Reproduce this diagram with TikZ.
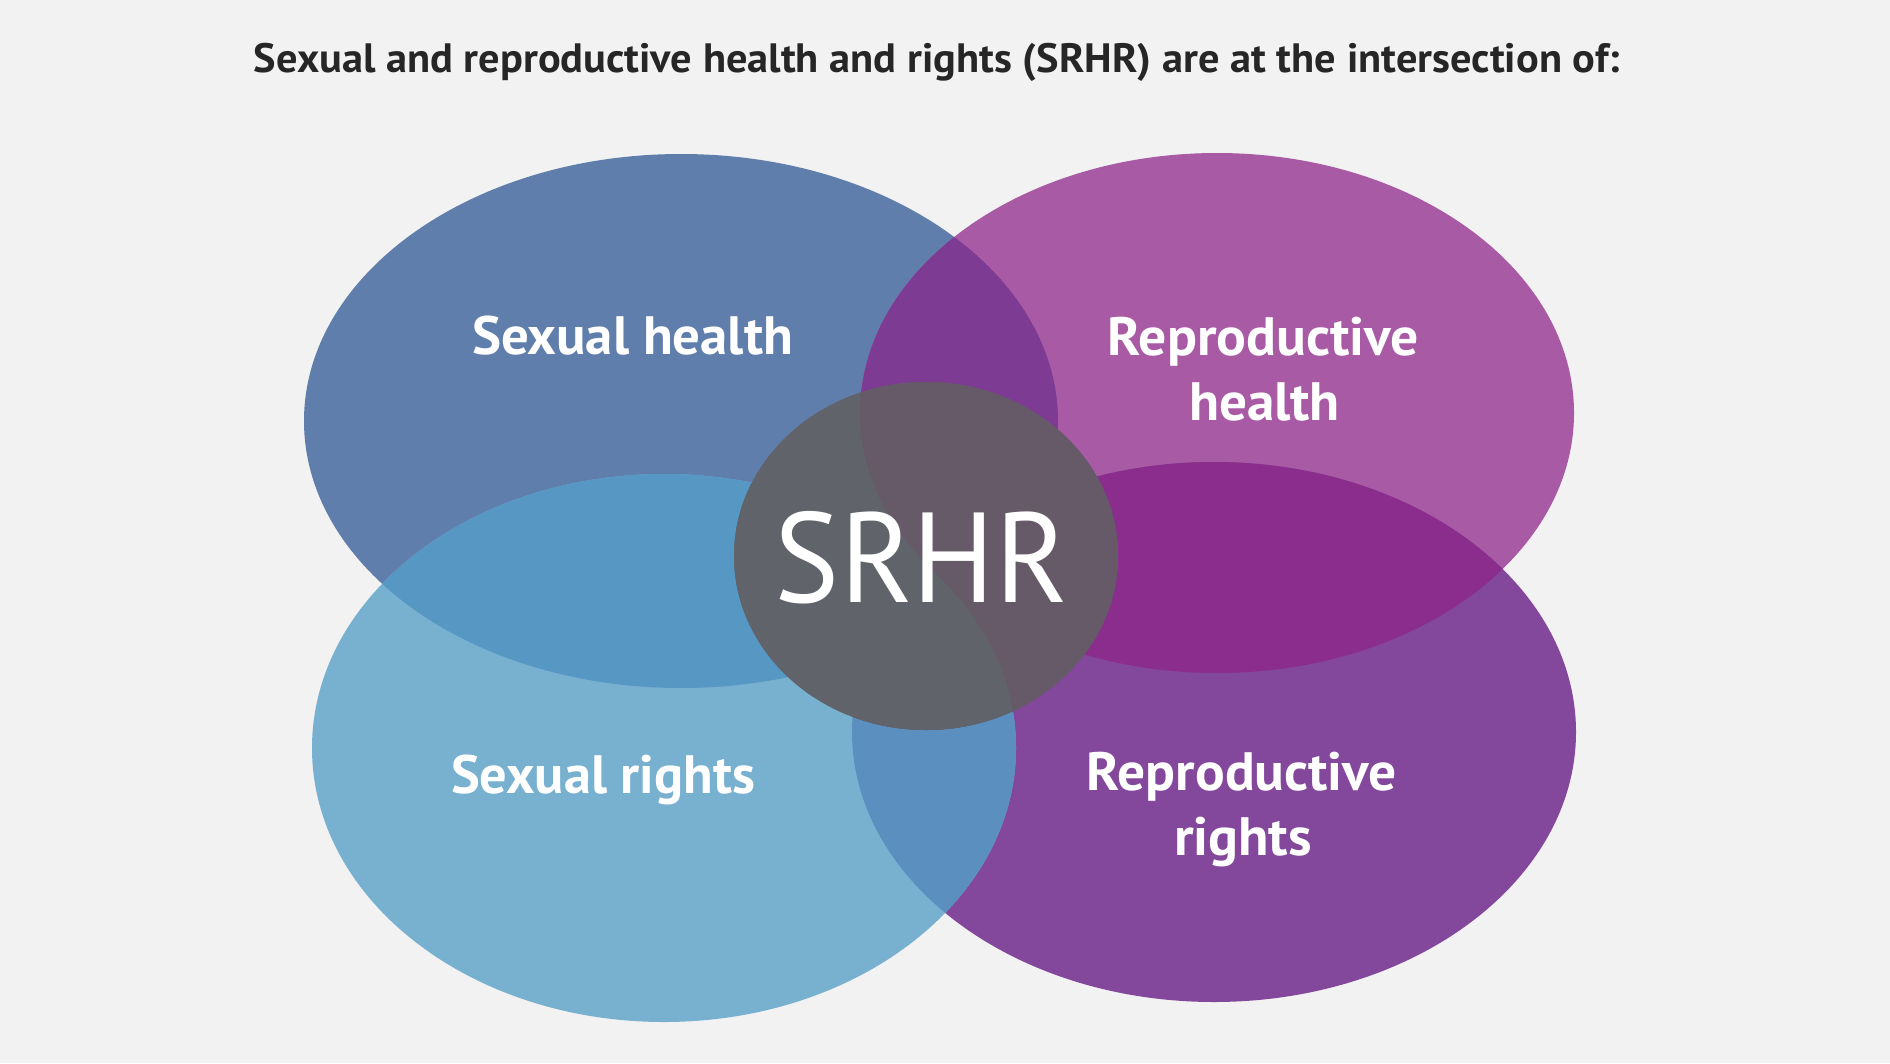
\documentclass[tikz,border=0pt]{standalone}
\usepackage{fontspec}
\usepackage{graphicx}
\newfontfamily\labfont{PT Sans}
\definecolor{bgc}{HTML}{F2F2F2}
\definecolor{cTL}{HTML}{607EAB}
\definecolor{cTR}{HTML}{A85AA5}
\definecolor{cBL}{HTML}{78B0D0}
\definecolor{cBR}{HTML}{83479B}
\definecolor{cTLTR}{HTML}{7E3B93}
\definecolor{cTRBR}{HTML}{8A2D8C}
\definecolor{cTLBL}{HTML}{5697C3}
\definecolor{cBLBR}{HTML}{5A8FC0}
\definecolor{cCG}{HTML}{606369}
\definecolor{cCP}{HTML}{665A69}
\definecolor{titlec}{HTML}{262626}
\newcommand\fitw[2]{\resizebox{#1pt}{\height}{#2}}
\def\pTL{(681,421) ellipse [x radius=377pt, y radius=267pt]}
\def\pTR{(1217,413) ellipse [x radius=357pt, y radius=260pt]}
\def\pBL{(664,748) ellipse [x radius=352pt, y radius=274pt]}
\def\pBR{(1214,732) ellipse [x radius=362pt, y radius=270pt]}
\def\pC{(926,556) ellipse [x radius=192pt, y radius=174pt]}
\tikzset{
  lab/.style={anchor=base, inner sep=0pt, text=white, font=\labfont\bfseries\fontsize{54}{60}\selectfont},
  ttl/.style={anchor=base, inner sep=0pt, text=titlec, font=\labfont\bfseries\fontsize{41}{48}\selectfont},
  big/.style={anchor=base, inner sep=0pt, text=white, font=\labfont\fontsize{128}{140}\selectfont}
}
\begin{document}
\begin{tikzpicture}[x=1pt,y=-1pt]
\fill[bgc] (0,0) rectangle (1890,1063);
\useasboundingbox (0,0) rectangle (1890,1063);
% base ellipses
\fill[cTL] \pTL;
\fill[cTR] \pTR;
\fill[cBR] \pBR;
\fill[cBL] \pBL;
% overlaps
\begin{scope}\clip \pTL; \fill[cTLTR] \pTR; \end{scope}
\begin{scope}\clip \pTR; \fill[cTRBR] \pBR; \end{scope}
\begin{scope}\clip \pTL; \fill[cTLBL] \pBL; \end{scope}
\begin{scope}\clip \pBR; \fill[cBLBR] \pBL; \end{scope}
% centre circle
\fill[cCG] \pC;
\begin{scope}\clip \pC; \fill[cCP] \pTR; \fill[cCP] \pBR; \fill[cCG] \pBL; \end{scope}
% texts
\node[ttl] (title) at (937,72) {\fitw{1366}{Sexual and reproductive health and rights (SRHR) are at the intersection of:}};
\node[lab] (sh) at (632.5,354) {\fitw{321}{Sexual health}};
\node[lab] (rh1) at (1263.5,355) {\fitw{311}{Reproductive}};
\node[lab] (rh2) at (1264.5,420) {\fitw{151}{health}};
\node[lab] (sr) at (603,793) {\fitw{304}{Sexual rights}};
\node[lab] (rr1) at (1242,790) {\fitw{310}{Reproductive}};
\node[lab] (rr2) at (1243,855) {\fitw{138}{rights}};
\node[big] (srhr) at (921.5,602) {\fitw{293}{SRHR}};
\end{tikzpicture}
\end{document}
